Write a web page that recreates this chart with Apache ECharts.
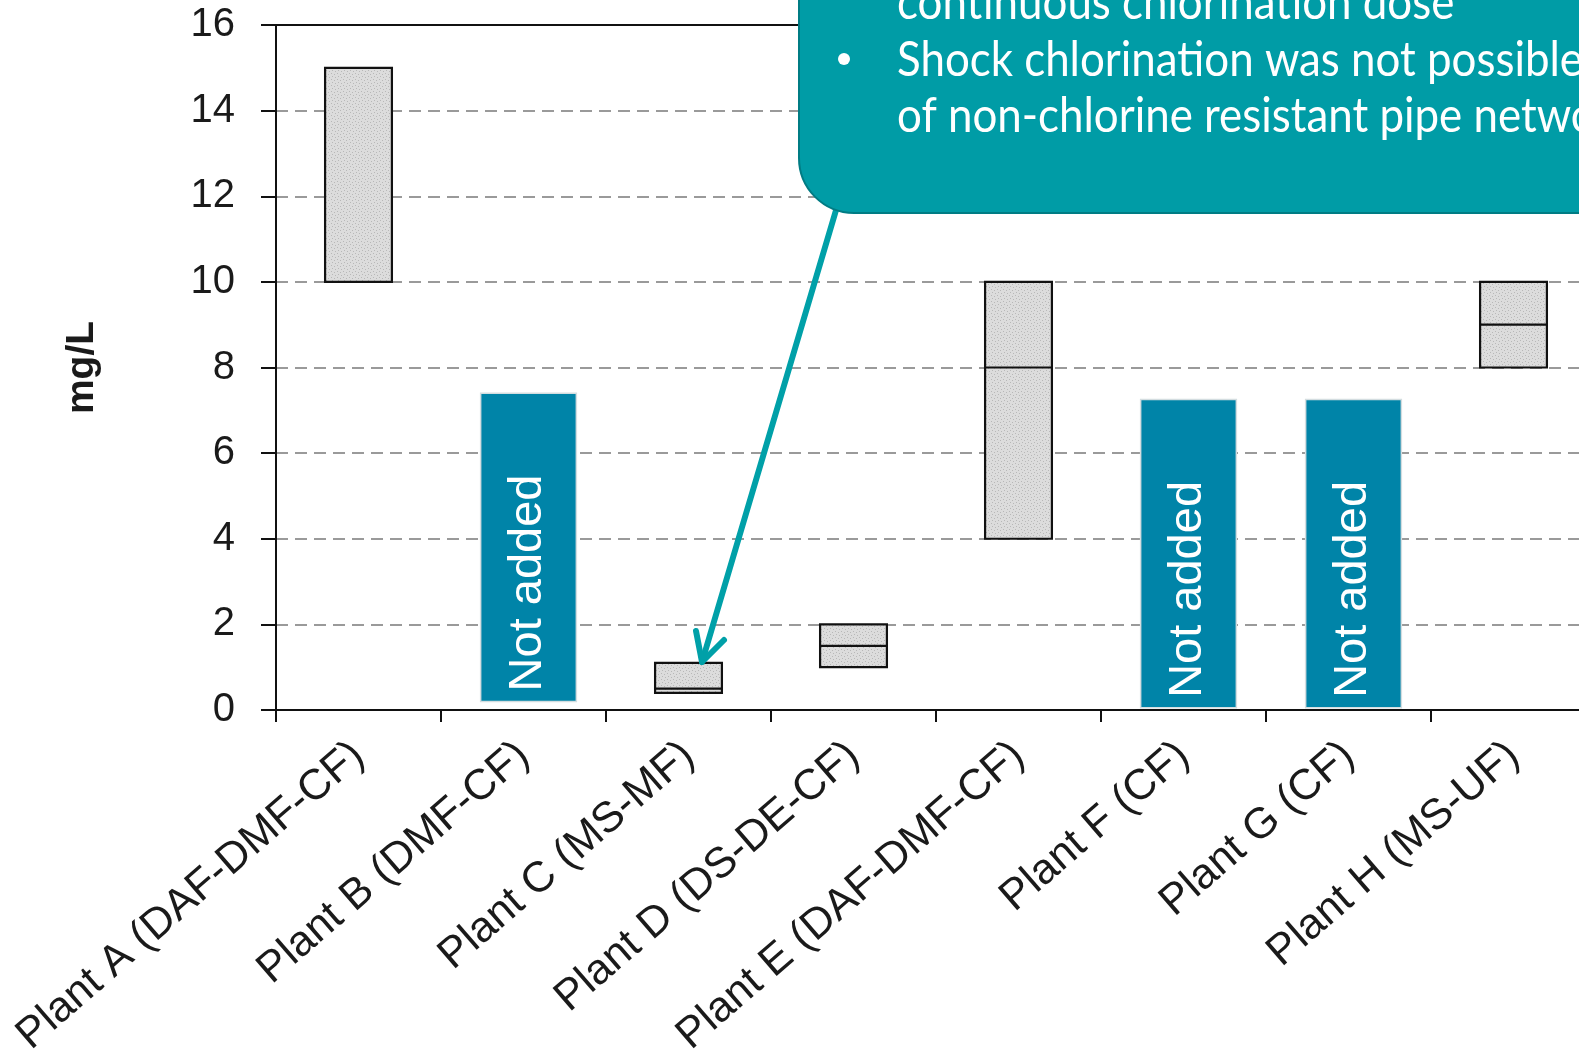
<!DOCTYPE html>
<html><head><meta charset="utf-8">
<script src="https://cdn.jsdelivr.net/npm/echarts@6/dist/echarts.min.js"></script>
<style>html,body{margin:0;padding:0;background:#fff;overflow:hidden}#c{width:1579px;height:1055px}</style>
</head><body><div id="c"></div>
<script>
// ---- data ----
const categories = ['Plant A (DAF-DMF-CF)', 'Plant B (DMF-CF)', 'Plant C (MS-MF)', 'Plant D (DS-DE-CF)',
  'Plant E (DAF-DMF-CF)', 'Plant F (CF)', 'Plant G (CF)', 'Plant H (MS-UF)'];
const boxLow    = [10, null, 0.4, 1.0, 4,  null, null, 8];
const boxHigh   = [15, null, 1.1, 2.0, 10, null, null, 10];
const boxMedian = [null, null, 0.5, 1.5, 8, null, null, 9];
const notAddedLow  = [null, 0.2, null, null, null, 0.05, 0.05, null];
const notAddedHigh = [null, 7.4, null, null, null, 7.25, 7.25, null];
const notAddedText = 'Not added';
const yMin = 0, yMax = 16, yStep = 2;
const yName = 'mg/L';
const calloutLines = ['continuous chlorination dose', 'Shock chlorination was not possible', 'of non-chlorine resistant pipe network'];

// ---- styles ----
const FONT = 'Liberation Sans, Arial, sans-serif';
const pc = document.createElement('canvas'); pc.width = 6; pc.height = 6;
const g = pc.getContext('2d');
g.fillStyle = '#dcdcdc'; g.fillRect(0, 0, 6, 6);
g.fillStyle = '#b8b8b8'; g.fillRect(1, 1, 1, 1); g.fillRect(4, 2, 1, 1); g.fillRect(2, 4, 1, 1); g.fillRect(5, 5, 1, 1);
const stipple = { image: pc, repeat: 'repeat' };

const CALLOUT_PX = 48;
const mc = document.createElement('canvas').getContext('2d');
mc.font = CALLOUT_PX + 'px Lato';
const calloutScaleX = 686 / mc.measureText(calloutLines[1]).width;

const boxData = [];
categories.forEach((c, i) => { if (boxLow[i] != null) boxData.push([i, boxLow[i], boxHigh[i], boxMedian[i] == null ? '-' : boxMedian[i]]); });
const naData = [];
categories.forEach((c, i) => { if (notAddedLow[i] != null) naData.push([i, notAddedLow[i], notAddedHigh[i]]); });

function calloutText(t, y) {
  return { type: 'text', z: 102, x: 897, y: y, scaleX: calloutScaleX, scaleY: 1,
    style: { text: t, fill: '#fff', font: CALLOUT_PX + 'px Lato', align: 'left', verticalAlign: 'bottom' } };
}

const chart = echarts.init(document.getElementById('c'), null, { renderer: 'canvas' });
const option = {
  animation: false,
  backgroundColor: '#fff',
  grid: { left: 276, top: 25, width: 1320, height: 685, outerBoundsMode: 'none', containLabel: false },
  xAxis: [{
    type: 'category', data: categories, position: 'bottom',
    axisLine: { lineStyle: { color: '#111', width: 2 } },
    axisTick: { show: true, interval: 0, length: 12, lineStyle: { color: '#111', width: 2 } },
    axisLabel: { interval: 0, rotate: 41, fontSize: 43, fontFamily: FONT, color: '#1a1a1a', margin: 40 },
    splitLine: { show: false }
  }, {
    type: 'category', data: categories, position: 'top',
    axisLine: { lineStyle: { color: '#111', width: 2 } },
    axisTick: { show: false }, axisLabel: { show: false }, splitLine: { show: false }
  }],
  yAxis: {
    type: 'value', min: yMin, max: yMax, interval: yStep,
    name: yName, nameLocation: 'middle', nameGap: 174,
    nameTextStyle: { fontSize: 39, fontWeight: 'bold', fontFamily: FONT, color: '#1a1a1a' },
    axisLine: { show: true, lineStyle: { color: '#111', width: 2 } },
    axisTick: { show: true, length: 15, lineStyle: { color: '#111', width: 2 } },
    axisLabel: { fontSize: 40, fontFamily: FONT, color: '#1a1a1a', margin: 41 },
    splitLine: { show: true, lineStyle: { color: '#9a9a9a', width: 2, type: [12, 7] } }
  },
  series: [{
    type: 'custom', xAxisIndex: 0, data: boxData, encode: { x: 0, y: [1, 2] }, z: 3,
    renderItem(params, api) {
      const i = api.value(0);
      const top = api.coord([i, api.value(2)]);
      const bot = api.coord([i, api.value(1)]);
      const bw = api.size([1, 0])[0] * 0.405;
      const children = [{
        type: 'rect', shape: { x: top[0] - bw / 2, y: top[1], width: bw, height: bot[1] - top[1] },
        style: { fill: stipple, stroke: '#111', lineWidth: 2.2 }
      }];
      const m = api.value(3);
      if (!isNaN(m)) {
        const mp = api.coord([i, m]);
        children.push({ type: 'line', shape: { x1: top[0] - bw / 2, y1: mp[1], x2: top[0] + bw / 2, y2: mp[1] }, style: { stroke: '#111', lineWidth: 2.2 } });
      }
      return { type: 'group', children };
    }
  }, {
    type: 'custom', xAxisIndex: 0, data: naData, encode: { x: 0, y: [1, 2] }, z: 4,
    renderItem(params, api) {
      const i = api.value(0);
      const top = api.coord([i, api.value(2)]);
      const bot = api.coord([i, api.value(1)]);
      const bw = api.size([1, 0])[0] * 0.58;
      const cx = top[0] + 5;
      return {
        type: 'group', children: [{
          type: 'rect', shape: { x: cx - bw / 2, y: top[1], width: bw, height: bot[1] - top[1] },
          style: { fill: '#0084A8', stroke: '#d4dde0', lineWidth: 1.5 }
        }, {
          type: 'text', x: cx, y: bot[1] - 10, rotation: Math.PI / 2,
          style: { text: notAddedText, fill: '#fff', font: '47px ' + FONT, align: 'left', verticalAlign: 'middle' }
        }]
      };
    }
  }],
  graphic: [
    { type: 'polyline', z: 100, shape: { points: [[842, 190], [702, 662]] }, style: { stroke: '#00A0A8', lineWidth: 6, lineCap: 'round' } },
    { type: 'polyline', z: 100, shape: { points: [[696, 631], [702, 662], [724, 640]] }, style: { stroke: '#00A0A8', lineWidth: 6, lineCap: 'round', lineJoin: 'round', fill: null } },
    { type: 'rect', z: 101, shape: { x: 799, y: -120, width: 900, height: 333, r: 55 }, style: { fill: '#009CA6', stroke: '#007C84', lineWidth: 2 } },
    calloutText(calloutLines[0], 28),
    { type: 'circle', z: 102, shape: { cx: 844, cy: 59, r: 6 }, style: { fill: '#fff' } },
    calloutText(calloutLines[1], 85),
    calloutText(calloutLines[2], 141)
  ]
};
chart.setOption(option);
</script></body></html>
